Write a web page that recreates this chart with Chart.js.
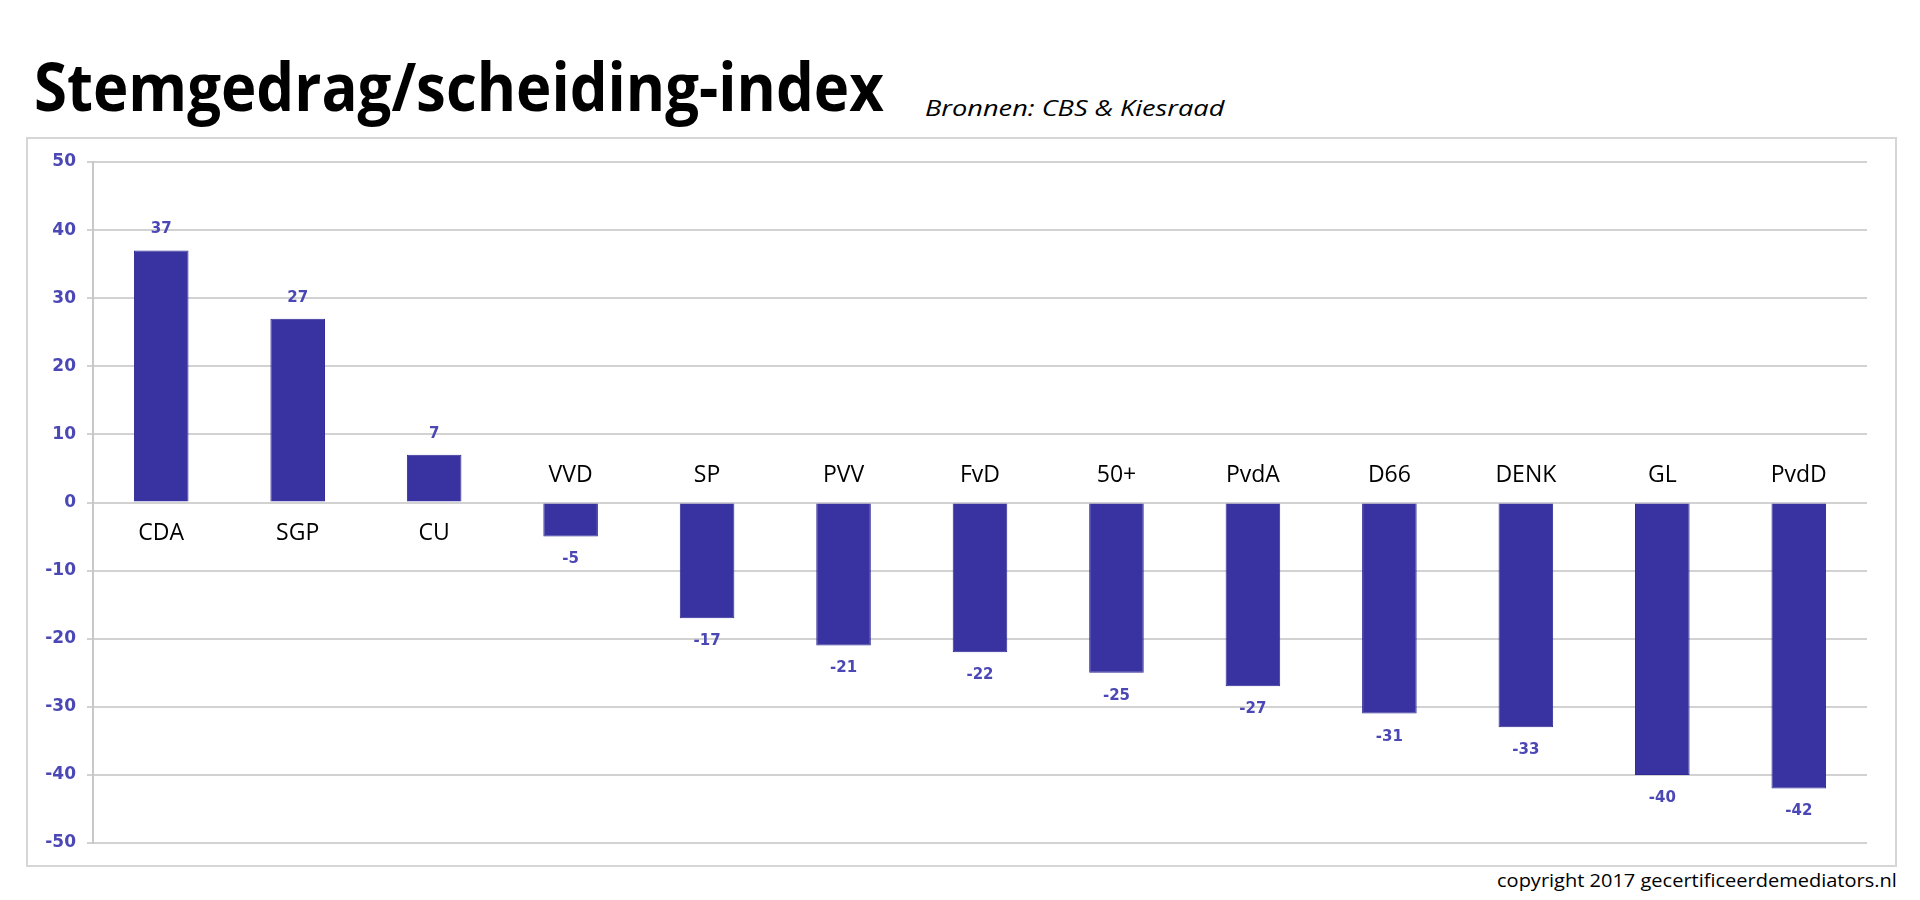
<!DOCTYPE html>
<html lang="nl">
<head>
  <meta charset="UTF-8">
  <title>Stemgedrag/scheiding-index</title>
  <script src="https://cdn.jsdelivr.net/npm/chart.js"></script>
  <style>
    html, body { margin: 0; padding: 0; background: #fff; }
    body { width: 1920px; height: 900px; position: relative; overflow: hidden; }
    .txt { position: absolute; white-space: nowrap; line-height: 1; }
    #title { left: 34px; top: 40px; font: bold 66px "Open Sans"; color: #000; transform-origin: left top; }
    #sub { left: 925px; top: 94px; font: italic 21px "Open Sans"; color: #000; transform-origin: left top; }
    #copy { right: 23px; top: 868px; font: 500 18px "Open Sans"; color: #000; transform-origin: right top; }
    #frame { position: absolute; left: 26px; top: 137px; width: 1871px; height: 730px; border: 2px solid #d6d6d6; box-sizing: border-box; }
    #chartCanvas { position: absolute; left: 27px; top: 138px; }
  </style>
</head>
<body>
  <div id="title" class="txt">Stemgedrag/scheiding-index</div>
  <div id="sub" class="txt">Bronnen: CBS &amp; Kiesraad</div>
  <div id="frame"></div>
  <canvas id="chartCanvas" width="1870" height="729"></canvas>
  <div id="copy" class="txt">copyright 2017 gecertificeerdemediators.nl</div>

  <script>
    // Gegevens
    const parties = ['CDA', 'SGP', 'CU', 'VVD', 'SP', 'PVV', 'FvD', '50+', 'PvdA', 'D66', 'DENK', 'GL', 'PvdD'];
    const values = [37, 27, 7, -5, -17, -21, -22, -25, -27, -31, -33, -40, -42];
    const yTicks = [50, 40, 30, 20, 10, 0, -10, -20, -30, -40, -50];

    // Tekst op breedte brengen
    function fitWidth(id, w) {
      const el = document.getElementById(id);
      el.style.transform = 'scaleX(' + (w / el.offsetWidth) + ')';
    }
    fitWidth('title', 850);
    fitWidth('sub', 300);
    fitWidth('copy', 400);

    // Partijnamen en waarden bij de balken
    const barLabels = {
      id: 'barLabels',
      afterDatasetsDraw(chart) {
        const ctx = chart.ctx;
        const meta = chart.getDatasetMeta(0);
        const zeroY = chart.scales.y.getPixelForValue(0);
        ctx.save();
        ctx.textAlign = 'center';
        ctx.textBaseline = 'middle';
        meta.data.forEach((bar, i) => {
          const v = values[i];
          ctx.font = '23px "Open Sans"';
          ctx.fillStyle = '#000';
          ctx.fillText(parties[i], bar.x, v >= 0 ? zeroY + 31 : zeroY - 27);
          ctx.font = 'bold 15px "DejaVu Sans"';
          ctx.fillStyle = '#4b47b5';
          ctx.fillText(String(v), bar.x, v >= 0 ? bar.y - 21 : bar.y + 23);
        });
        ctx.restore();
      }
    };

    new Chart(document.getElementById('chartCanvas'), {
      type: 'bar',
      data: {
        labels: parties,
        datasets: [{
          data: values,
          backgroundColor: '#3833a0',
          borderColor: '#2f2a95',
          borderWidth: 1,
          barPercentage: 0.4,
          categoryPercentage: 1
        }]
      },
      options: {
        responsive: false,
        animation: false,
        layout: { padding: { left: 0, right: 30, top: 24, bottom: 24 } },
        plugins: { legend: { display: false }, tooltip: { enabled: false } },
        scales: {
          x: { display: false },
          y: {
            min: -50, max: 50,
            afterFit: s => { s.width = 66; },
            afterBuildTicks: s => { s.ticks = yTicks.map(v => ({ value: v })); },
            ticks: {
              color: '#4b47b5',
              font: { family: 'DejaVu Sans', weight: 'bold', size: 17 },
              padding: 11
            },
            grid: { color: '#d2d2d2', lineWidth: 2, tickLength: 6 },
            border: { display: true, color: '#c8c8c8', width: 2 }
          }
        }
      },
      plugins: [barLabels]
    });
  </script>
</body>
</html>
